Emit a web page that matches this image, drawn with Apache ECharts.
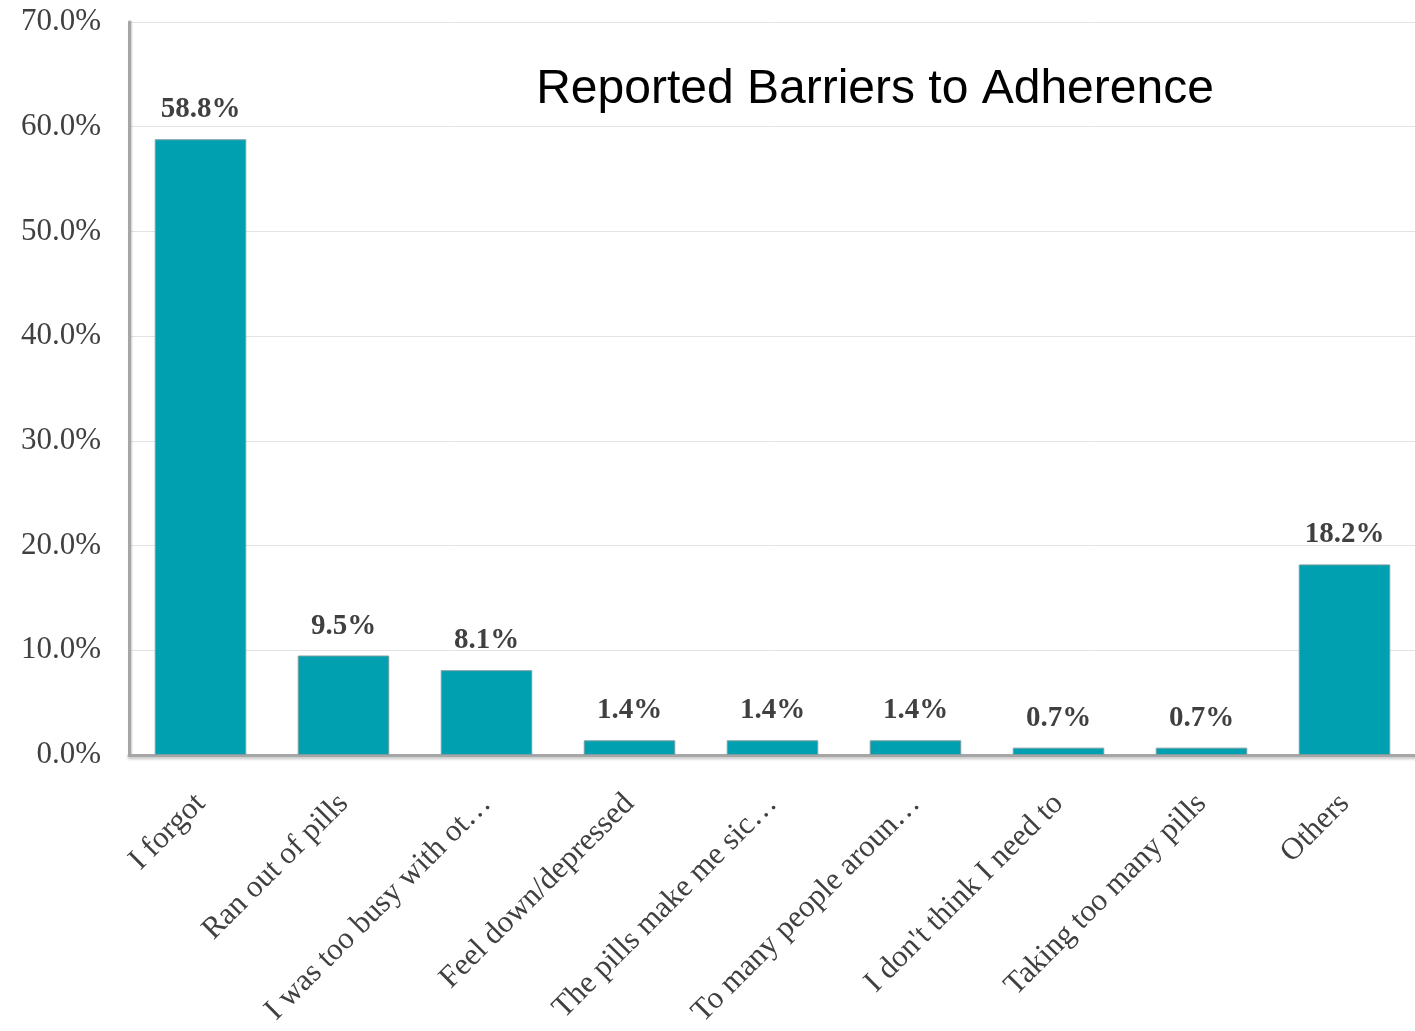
<!DOCTYPE html>
<html><head><meta charset="utf-8">
<script src="https://cdn.jsdelivr.net/npm/echarts@6/dist/echarts.min.js"></script>
<style>html,body{margin:0;padding:0;background:#fff}#c{width:1415px;height:1031px}</style>
</head><body><div id="c"></div>
<script>
const categories = ["I forgot","Ran out of pills","I was too busy with ot\u2026","Feel down/depressed","The pills make me sic\u2026","To many people aroun\u2026","I don't think I need to","Taking too many pills","Others"];
const values = [58.8, 9.5, 8.1, 1.4, 1.4, 1.4, 0.7, 0.7, 18.2];
const titleText = "Reported Barriers to Adherence";
const chart = echarts.init(document.getElementById('c'), null, {renderer:'canvas'});
chart.setOption({
  animation:false,
  backgroundColor:'#fff',
  title:{text:titleText,left:870,top:61,textAlign:'center',textStyle:{fontFamily:'Liberation Sans',fontSize:48,fontWeight:'normal',color:'#000'}},
  grid:{left:129,right:-1,top:22,bottom:276,containLabel:false,outerBoundsMode:'none'},
  xAxis:{type:'category',data:categories,
    axisLine:{show:true,lineStyle:{color:'#a6a6a6',width:3,shadowColor:'rgba(0,0,0,0.25)',shadowBlur:3,shadowOffsetY:2}},
    axisTick:{show:false},
    axisLabel:{rotate:45,interval:0,margin:44,fontFamily:'Liberation Serif',fontSize:31,color:'#404040'}},
  yAxis:{type:'value',min:0,max:70,interval:10,
    axisLine:{show:true,lineStyle:{color:'#a6a6a6',width:3,shadowColor:'rgba(0,0,0,0.2)',shadowBlur:2,shadowOffsetX:1}},
    axisTick:{show:false},
    splitLine:{lineStyle:{color:'#e3e3e3',width:1}},
    axisLabel:{margin:28,fontFamily:'Liberation Serif',fontSize:31,color:'#404040',formatter:v=>v.toFixed(1)+'%'}},
  series:[{type:'bar',data:values,barWidth:'64%',
    itemStyle:{color:'#00A0B0',borderColor:'#7a9ea2',borderWidth:1},
    label:{show:true,position:'top',distance:15,fontFamily:'Liberation Serif',fontWeight:'bold',fontSize:29,color:'#404040',formatter:p=>p.value.toFixed(1)+'%'}}]
});
</script></body></html>
